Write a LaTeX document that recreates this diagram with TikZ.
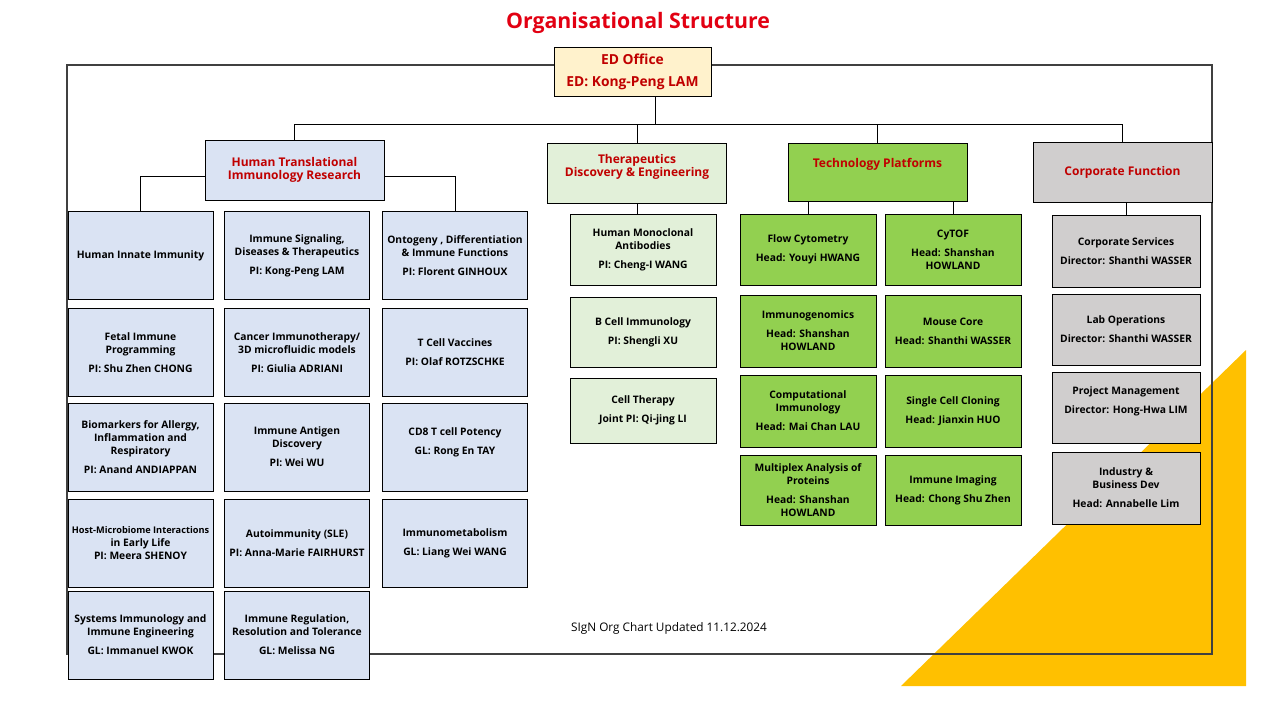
\documentclass[tikz,border=0pt]{standalone}
\usepackage{fontspec}
\setmainfont{Open Sans}
\usepackage{tikz}
\usetikzlibrary{positioning,calc}
\usepackage{xcolor}
\definecolor{signred}{RGB}{226,0,18}
\definecolor{headred}{RGB}{192,0,0}
\definecolor{htiblue}{RGB}{218,227,243}
\definecolor{tdegreen}{RGB}{226,240,217}
\definecolor{techgreen}{RGB}{146,208,80}
\definecolor{corpgray}{RGB}{208,206,206}
\definecolor{edyellow}{RGB}{255,242,204}
\definecolor{signyellow}{RGB}{255,192,0}
\definecolor{framegray}{RGB}{64,64,64}

\tikzset{
  unitbox/.style={draw=black, line width=0.8pt, align=center, inner sep=2pt,
    font=\bfseries\fontsize{10.3}{13}\selectfont},
  hticell/.style={unitbox, fill=htiblue, minimum width=145, minimum height=88},
  tdecell/.style={unitbox, fill=tdegreen, minimum width=146, minimum height=70},
  techcell/.style={unitbox, fill=techgreen, minimum width=136, minimum height=71},
  corpcell/.style={unitbox, fill=corpgray, minimum width=148, minimum height=71},
  headbox/.style={unitbox, text=headred, minimum width=179, minimum height=60,
    font=\bfseries\fontsize{12}{13}\selectfont},
  link/.style={draw=black, line width=0.8pt}
}

\begin{document}
\begin{tikzpicture}[x=1pt, y=-1pt]
\useasboundingbox (0,0) rectangle (1280,720);

% yellow corner and frame
\fill[signyellow] (901,686) -- (1246,686) -- (1246,350) -- cycle;
\draw[framegray, line width=1.8pt] (67,65) rectangle (1212,654);

\node (title) at (638,23) {\fontsize{21.3}{24}\selectfont\bfseries\color{signred} Organisational Structure};

% ED office
\node[unitbox, fill=edyellow, text=headred, minimum width=157, minimum height=49,
  font=\bfseries\fontsize{13.8}{15}\selectfont] (ed) at (632.5,71.5) {ED Office\\[7pt]ED: Kong-Peng LAM};

% four arms
\node[headbox, fill=htiblue] (hti) at (294.5,170) {Human Translational\\Immunology Research};
\node[headbox, fill=tdegreen, text depth=16pt] (tde) at (637,173) {Therapeutics\\Discovery \& Engineering};
\node[headbox, fill=techgreen, minimum height=58, text depth=18pt] (tech) at (877.5,172) {Technology Platforms};
\node[headbox, fill=corpgray] (corp) at (1122.5,172) {Corporate Function};

% Human Translational Immunology Research
\node[hticell] (h11) at (140.5,255.5) {Human Innate Immunity};
\node[hticell] (h12) at (140.5,352.5) {Fetal Immune\\Programming\\[6pt]PI: Shu Zhen CHONG};
\node[hticell] (h13) at (140.5,447) {Biomarkers for Allergy,\\Inflammation and\\Respiratory\\[6pt]PI: Anand ANDIAPPAN};
\node[hticell] (h14) at (140.5,543) {\fontsize{9.2}{11}\selectfont Host-Microbiome Interactions\\in Early Life\\\fontsize{10.3}{13}\selectfont PI: Meera SHENOY};
\node[hticell] (h15) at (140.5,635) {Systems Immunology and\\Immune Engineering\\[6pt]GL: Immanuel KWOK};

\node[hticell] (h21) at (297,255.5) {Immune Signaling,\\Diseases \& Therapeutics\\[6pt]PI: Kong-Peng LAM};
\node[hticell] (h22) at (297,352.5) {Cancer Immunotherapy/\\3D microfluidic models\\[6pt]PI: Giulia ADRIANI};
\node[hticell] (h23) at (297,447) {Immune Antigen\\Discovery\\[6pt]PI: Wei WU};
\node[hticell] (h24) at (297,543) {Autoimmunity (SLE)\\[6pt]PI: Anna-Marie FAIRHURST};
\node[hticell] (h25) at (297,635) {Immune Regulation,\\Resolution and Tolerance\\[6pt]GL: Melissa NG};

\node[hticell] (h31) at (455,255.5) {Ontogeny , Differentiation\\\& Immune Functions\\[6pt]PI: Florent GINHOUX};
\node[hticell] (h32) at (455,352.5) {T Cell Vaccines\\[6pt]PI: Olaf ROTZSCHKE};
\node[hticell, text depth=12pt] (h33) at (455,447) {CD8 T cell Potency\\[6pt]GL: Rong En TAY};
\node[hticell] (h34) at (455,543) {Immunometabolism\\[6pt]GL: Liang Wei WANG};

% Therapeutics Discovery & Engineering
\node[tdecell, minimum height=71] (d1) at (643,249.5) {Human Monoclonal\\Antibodies\\[6pt]PI: Cheng-I WANG};
\node[tdecell] (d2) at (643,332) {B Cell Immunology\\[6pt]PI: Shengli XU};
\node[tdecell, minimum height=65] (d3) at (643,410.5) {Cell Therapy\\[6pt]Joint PI: Qi-jing LI};

% Technology Platforms
\node[techcell] (t11) at (808,249.5) {Flow Cytometry\\[6pt]Head: Youyi HWANG};
\node[techcell, minimum height=72] (t12) at (808,331) {Immunogenomics\\[6pt]Head: Shanshan\\HOWLAND};
\node[techcell, minimum height=72] (t13) at (808,411) {Computational\\Immunology\\[6pt]Head: Mai Chan LAU};
\node[techcell, minimum height=70] (t14) at (808,490) {Multiplex Analysis of\\Proteins\\[6pt]Head: Shanshan\\HOWLAND};

\node[techcell] (t21) at (953,249.5) {CyTOF\\[6pt]Head: Shanshan\\HOWLAND};
\node[techcell, minimum height=72] (t22) at (953,331) {Mouse Core\\[6pt]Head: Shanthi WASSER};
\node[techcell, minimum height=72] (t23) at (953,411) {Single Cell Cloning\\[6pt]Head: Jianxin HUO};
\node[techcell, minimum height=70] (t24) at (953,490) {Immune Imaging\\[6pt]Head: Chong Shu Zhen};

% Corporate Function
\node[corpcell, minimum height=72] (c1) at (1126,251) {Corporate Services\\[6pt]Director: Shanthi WASSER};
\node[corpcell] (c2) at (1126,329.5) {Lab Operations\\[6pt]Director: Shanthi WASSER};
\node[corpcell, text depth=14pt] (c3) at (1126,407.5) {Project Management\\[6pt]Director: Hong-Hwa LIM};
\node[corpcell, minimum height=72] (c4) at (1126,488) {Industry \&\\Business Dev\\[6pt]Head: Annabelle Lim};

\node[font=\fontsize{11.8}{13}\selectfont] (stamp) at (669,628) {SIgN Org Chart Updated 11.12.2024};

% connectors
\coordinate (edjoin) at (655,124);
\draw[link] (ed.south -| edjoin) -- (edjoin);
\draw[link] (hti.north) |- (corp.north |- edjoin) -- (corp.north);
\draw[link] (tde.north) -- (tde.north |- edjoin);
\draw[link] (tech.north) -- (tech.north |- edjoin);
\draw[link] ([yshift=-6pt]hti.west) -| (h11.north);
\draw[link] ([yshift=-6pt]hti.east) -| (h31.north);
\draw[link] (tde.south) -- (tde.south |- d1.north);
\draw[link] (t11.north |- tech.south) -- (t11.north);
\draw[link] (t21.north |- tech.south) -- (t21.north);
\draw[link] (c1.north |- corp.south) -- (c1.north);
\end{tikzpicture}
\end{document}
